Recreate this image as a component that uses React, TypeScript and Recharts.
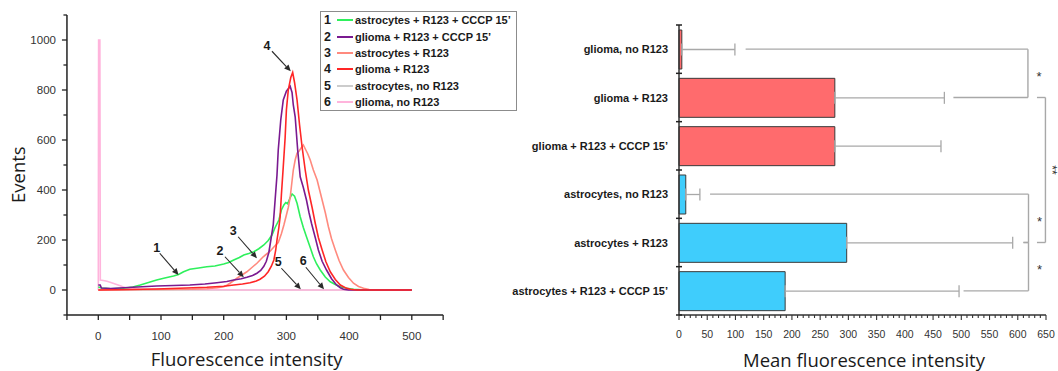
import React from "react";
import {
  Bar,
  BarChart,
  Cell,
  ErrorBar,
  Line,
  LineChart,
  ReferenceDot,
  ReferenceLine,
  XAxis,
  YAxis,
} from "recharts";

// ---- histogram (left panel) ----
const GREEN_PTS = [
  [0, 12], [5, 8], [20, 5], [40, 7], [55, 12], [67, 20], [80, 30], [93, 40], [106, 48], [120, 56],
  [128, 62], [136, 73], [146, 83], [160, 88], [173, 93], [186, 96], [200, 104], [208, 110], [216, 120],
  [225, 130], [232, 140], [240, 146], [248, 153], [256, 165], [264, 180], [271, 198], [277, 220],
  [282, 250], [288, 280], [292, 320], [296, 340], [299, 350], [302, 345], [306, 370], [309, 384],
  [313, 375], [317, 347], [322, 293], [327, 250], [332, 213], [338, 170], [343, 133], [348, 105],
  [354, 80], [362, 52], [370, 33], [378, 22], [386, 13], [396, 7], [407, 3], [420, 1], [440, 0], [500, 0],
];
const PURPLE_PTS = [
  [0, 20], [3, 20], [5, 8], [20, 6], [40, 9], [70, 13], [93, 16], [120, 18], [146, 20], [170, 24],
  [189, 29], [205, 34], [216, 40], [228, 45], [237, 51], [246, 58], [253, 67], [259, 78], [264, 95],
  [268, 115], [272, 150], [276, 213], [279, 260], [282, 360], [285, 460], [287, 560], [291, 680],
  [295, 760], [300, 795], [303, 805], [306, 815], [309, 790], [311, 740], [314, 693], [318, 560],
  [322, 453], [327, 410], [332, 360], [336, 310], [340, 267], [346, 210], [351, 160], [357, 115],
  [364, 80], [372, 45], [380, 20], [386, 9], [391, 3], [399, 0], [500, 0],
];
const SALMON_PTS = [
  [0, 0], [100, 2], [150, 3], [173, 5], [190, 9], [200, 13], [205, 19], [210, 27], [215, 36], [221, 47],
  [229, 60], [237, 73], [245, 90], [253, 107], [258, 120], [263, 133], [269, 145], [274, 155], [280, 172],
  [287, 190], [292, 225], [296, 260], [300, 300], [303, 330], [306, 370], [311, 480], [314, 520],
  [317, 547], [320, 555], [324, 570], [327, 580], [331, 560], [334, 545], [338, 520], [343, 480],
  [349, 440], [353, 400], [357, 360], [362, 310], [367, 253], [372, 205], [378, 160], [384, 118],
  [391, 80], [399, 50], [407, 27], [415, 14], [423, 7], [432, 2], [445, 0], [500, 0],
];
const RED_PTS = [
  [0, 0], [30, 1], [93, 4], [140, 8], [173, 11], [200, 15], [216, 20], [230, 24], [242, 29], [252, 36],
  [258, 43], [265, 55], [271, 73], [276, 95], [280, 120], [283, 160], [285, 200], [288, 250], [290, 293],
  [292, 380], [295, 493], [298, 610], [300, 720], [303, 800], [307, 850], [310, 870], [313, 830],
  [317, 760], [321, 660], [325, 573], [330, 480], [335, 400], [341, 330], [346, 267], [351, 210],
  [357, 160], [363, 113], [370, 73], [378, 42], [386, 20], [394, 9], [402, 3], [412, 0], [500, 0],
];
const GRAY_PTS = [[0, 0], [100, 0], [200, 0], [300, 0], [400, 0], [500, 0]];
const PINK_PTS = [
  [0, 0], [0.5, 1000], [2.5, 1000], [3.2, 40], [8, 38], [14, 35], [20, 30], [27, 24], [35, 17],
  [42, 10], [50, 6], [65, 4], [100, 3], [150, 2], [200, 1], [230, 0], [500, 0],
];

const SERIES = [
  { num: 1, name: "astrocytes + R123 + CCCP 15’", color: "#2ef05c", pts: GREEN_PTS },
  { num: 2, name: "glioma + R123 + CCCP 15’", color: "#7a1a90", pts: PURPLE_PTS },
  { num: 3, name: "astrocytes + R123", color: "#ff8a7e", pts: SALMON_PTS },
  { num: 4, name: "glioma + R123", color: "#ff2626", pts: RED_PTS },
  { num: 5, name: "astrocytes, no R123", color: "#cccccc", pts: GRAY_PTS },
  { num: 6, name: "glioma, no R123", color: "#ffb4dc", pts: PINK_PTS },
];
const DRAW_ORDER = [5, 6, 1, 3, 2, 4];

const HIST_X_TICKS = [-50, 0, 50, 100, 150, 200, 250, 300, 350, 400, 450, 500, 550];
const HIST_X_LABELS = [0, 100, 200, 300, 400, 500];
const HIST_Y_TICKS = [-100, 0, 100, 200, 300, 400, 500, 600, 700, 800, 900, 1000, 1100];
const HIST_Y_LABELS = [0, 200, 400, 600, 800, 1000];

const ARROW_TEXT = ["1", "2", "3", "4", "5", "6"];
const ARROW_TEXT_AT = [[93, 169], [194, 160], [215, 240], [269, 980], [287, 115], [327, 117]];
const ARROW_FROM = [[98, 147], [202, 133], [223, 213], [277, 955], [292, 87], [331, 91]];
const ARROW_TO = [[128, 60], [232, 51], [253, 127], [307, 875], [323, 3], [360, 3]];

// ---- bar panel (right) ----
const CATEGORIES = [
  "glioma, no R123",
  "glioma + R123",
  "glioma + R123 + CCCP 15’",
  "astrocytes, no R123",
  "astrocytes + R123",
  "astrocytes + R123 + CCCP 15’",
];
const MEANS = [5, 276, 276, 12, 297, 188];
const ERRORS = [94, 194, 188, 25, 294, 308];
const CELL_TYPE = ["glioma", "glioma", "glioma", "astro", "astro", "astro"];
const BAR_X_MAJOR = [0, 50, 100, 150, 200, 250, 300, 350, 400, 450, 500, 550, 600, 650];
const BAR_X_TICKS = Array.from({ length: 66 }, (_, i) => i * 10);

// significance brackets: rows joined, x of the vertical, where each arm starts, mark
const BRACKETS = [
  { top: 0, bottom: 1, x: 618, topFrom: 118, bottomFrom: 486, mark: "*" },
  { top: 3, bottom: 4, x: 619, topFrom: 55, bottomFrom: 610, mark: "*" },
  { top: 4, bottom: 5, x: 619, topFrom: 610, bottomFrom: 504, mark: "*" },
  { top: 1, bottom: 4, x: 649, topFrom: 634, bottomFrom: 634, mark: "**" },
];

const barData = CATEGORIES.map((name, i) => ({ name, mean: MEANS[i], err: [0, ERRORS[i]] }));

const TICK_FONT = "'Liberation Sans', Arial, sans-serif";
const TITLE_FONT = "'Open Sans', sans-serif";
const BAR_TOP = 25;
const BAR_BOTTOM = 315;
const HALF_BAND = (BAR_BOTTOM - BAR_TOP) / CATEGORIES.length / 2;

const Arrow = (p: any) => {
  const { x1, y1, x2, y2 } = p;
  const a = Math.atan2(y2 - y1, x2 - x1);
  const L = 6.5;
  const W = 3;
  const bx = x2 - L * Math.cos(a);
  const by = y2 - L * Math.sin(a);
  const pts = `${x2},${y2} ${bx + W * Math.sin(a)},${by - W * Math.cos(a)} ${bx - W * Math.sin(a)},${by + W * Math.cos(a)}`;
  return (
    <g>
      <line x1={x1} y1={y1} x2={bx} y2={by} stroke="#2a2a2a" strokeWidth={1.1} />
      <polygon points={pts} fill="#2a2a2a" />
    </g>
  );
};

const HistXTick = ({ x, y, payload }: any) => {
  const labeled = HIST_X_LABELS.includes(payload.value);
  return (
    <g>
      <line x1={x} y1={y} x2={x} y2={y + 5} stroke="#222" strokeWidth={1.3} />
      {labeled && (
        <text x={x} y={y + 24.5} textAnchor="middle" fontSize={11.5} fontFamily={TICK_FONT} fill="#333">
          {payload.value}
        </text>
      )}
    </g>
  );
};

const HistYTick = ({ x, y, payload }: any) => {
  const labeled = HIST_Y_LABELS.includes(payload.value);
  return (
    <g>
      <line x1={x - (labeled ? 5 : 3.5)} y1={y} x2={x} y2={y} stroke="#222" strokeWidth={1.3} />
      {labeled && (
        <text x={x - 11} y={y + 4} textAnchor="end" fontSize={11.5} fontFamily={TICK_FONT} fill="#333">
          {payload.value}
        </text>
      )}
    </g>
  );
};

const BarXTick = ({ x, y, payload }: any) => {
  const major = BAR_X_MAJOR.includes(payload.value);
  return (
    <g>
      <line x1={x} y1={y} x2={x} y2={y + (major ? 5 : 3)} stroke="#333" strokeWidth={1.1} />
      {major && (
        <text x={x} y={y + 22.5} textAnchor="middle" fontSize={10.5} fontFamily={TICK_FONT} fill="#333">
          {payload.value}
        </text>
      )}
    </g>
  );
};

const CategoryTick = ({ x, y, payload, index }: any) => (
  <g>
    <text x={x - 11} y={y + 4} textAnchor="end" fontSize={11} fontWeight="bold" fontFamily={TICK_FONT} fill="#1a1a1a">
      {payload.value}
    </text>
    <line x1={x - 3} x2={x + 3} y1={y - HALF_BAND} y2={y - HALF_BAND} stroke="#222" strokeWidth={1.5} />
    {index === CATEGORIES.length - 1 && (
      <line x1={x - 3} x2={x + 3} y1={y + HALF_BAND} y2={y + HALF_BAND} stroke="#222" strokeWidth={1.5} />
    )}
  </g>
);

const bracketLine = (mark?: string) => (p: any) => {
  const { x1, y1, x2, y2 } = p;
  const midY = (y1 + y2) / 2;
  const mx = Math.max(x1, x2);
  return (
    <g>
      <line x1={x1} y1={y1} x2={x2} y2={y2} stroke="#a8a8a8" strokeWidth={1.4} />
      {mark === "*" && (
        <text x={mx + 11} y={midY + 7.5} textAnchor="middle" fontSize={13} fontFamily={TICK_FONT} fill="#333">
          *
        </text>
      )}
      {mark === "**" && (
        <text
          x={mx + 2.5}
          y={midY}
          textAnchor="middle"
          fontSize={12}
          fontFamily={TICK_FONT}
          fill="#333"
          transform={`rotate(90, ${mx + 2.5}, ${midY})`}
        >
          **
        </text>
      )}
    </g>
  );
};

const HistLegend = () => (
  <div
    style={{
      position: "absolute",
      left: 320,
      top: 11,
      width: 197,
      height: 100,
      border: "1px solid #8c8c8c",
      background: "#fff",
      boxSizing: "border-box",
      paddingLeft: 3,
      fontFamily: TICK_FONT,
      fontWeight: "bold",
      color: "#1a1a1a",
    }}
  >
    {SERIES.map((s) => (
      <div key={s.num} style={{ display: "flex", alignItems: "center", height: 16.4, whiteSpace: "nowrap" }}>
        <span style={{ width: 13, fontSize: 12.5 }}>{s.num}</span>
        <span style={{ width: 15.5, height: 2, background: s.color, marginRight: 2.5 }} />
        <span style={{ fontSize: 11 }}>{s.name}</span>
      </div>
    ))}
  </div>
);

export default function App() {
  return (
    <div style={{ position: "absolute", left: 0, top: 0, width: 1058, height: 371, background: "#fff", overflow: "hidden" }}>
      <div style={{ position: "absolute", left: 0, top: 0 }}>
        <LineChart width={530} height={371} margin={{ top: 15, right: 86.85, bottom: 0, left: 0 }}>
          <XAxis
            type="number"
            dataKey="x"
            domain={[-50, 550]}
            ticks={HIST_X_TICKS}
            interval={0}
            height={56}
            tickSize={0}
            tickMargin={0}
            tickLine={false}
            tick={<HistXTick />}
            axisLine={{ stroke: "#222", strokeWidth: 1.5 }}
            label={{
              content: () => (
                <text x={246.7} y={366} textAnchor="middle" fontSize={18.5} fontFamily={TITLE_FONT} fill="#1a1a1a">
                  Fluorescence intensity
                </text>
              ),
            }}
          />
          <YAxis
            type="number"
            domain={[-100, 1100]}
            ticks={HIST_Y_TICKS}
            interval={0}
            width={66.95}
            tickSize={0}
            tickMargin={0}
            tickLine={false}
            tick={<HistYTick />}
            axisLine={{ stroke: "#222", strokeWidth: 1.5 }}
            label={{
              content: () => (
                <text
                  x={25}
                  y={174.7}
                  textAnchor="middle"
                  fontSize={18.5}
                  fontFamily={TITLE_FONT}
                  fill="#1a1a1a"
                  transform="rotate(-90, 25, 174.7)"
                >
                  Events
                </text>
              ),
            }}
          />
          {DRAW_ORDER.map((n) => {
            const s = SERIES[n - 1];
            return (
              <Line
                key={s.num}
                name={s.name}
                data={s.pts.map(([x, y]) => ({ x, y }))}
                dataKey="y"
                type="linear"
                stroke={s.color}
                strokeWidth={1.6}
                dot={false}
                activeDot={false}
                isAnimationActive={false}
              />
            );
          })}
          {ARROW_TEXT.map((t, i) => (
            <ReferenceLine
              key={`arrow-${t}`}
              segment={[
                { x: ARROW_FROM[i][0], y: ARROW_FROM[i][1] },
                { x: ARROW_TO[i][0], y: ARROW_TO[i][1] },
              ]}
              ifOverflow="visible"
              shape={Arrow}
            />
          ))}
          {ARROW_TEXT.map((t, i) => (
            <ReferenceDot
              key={`lbl-${t}`}
              x={ARROW_TEXT_AT[i][0]}
              y={ARROW_TEXT_AT[i][1]}
              r={0}
              ifOverflow="visible"
              shape={(p: any) => (
                <text x={p.cx} y={p.cy + 4.5} textAnchor="middle" fontSize={12.5} fontWeight="bold" fontFamily={TICK_FONT} fill="#1a1a1a">
                  {t}
                </text>
              )}
            />
          ))}
        </LineChart>
        <HistLegend />
      </div>

      <div style={{ position: "absolute", left: 500, top: 0 }}>
        <BarChart
          width={558}
          height={371}
          layout="vertical"
          data={barData}
          margin={{ top: BAR_TOP, right: 12, bottom: 0, left: 0 }}
          barSize={39}
        >
          <XAxis
            type="number"
            domain={[0, 650]}
            ticks={BAR_X_TICKS}
            interval={0}
            height={371 - BAR_BOTTOM}
            tickSize={0}
            tickMargin={0}
            tickLine={false}
            tick={<BarXTick />}
            axisLine={{ stroke: "#333", strokeWidth: 1.5 }}
            label={{
              content: () => (
                <text x={364} y={366.5} textAnchor="middle" fontSize={18.5} fontFamily={TITLE_FONT} fill="#1a1a1a">
                  Mean fluorescence intensity
                </text>
              ),
            }}
          />
          <YAxis
            type="category"
            dataKey="name"
            width={179}
            interval={0}
            tickSize={0}
            tickMargin={0}
            tickLine={false}
            tick={<CategoryTick />}
            axisLine={{ stroke: "#333", strokeWidth: 1.5 }}
          />
          <Bar dataKey="mean" stroke="#3a3a3a" strokeWidth={1} isAnimationActive={false}>
            {barData.map((d, i) => (
              <Cell key={d.name} fill={CELL_TYPE[i] === "glioma" ? "#ff6b6d" : "#3fcdfc"} />
            ))}
            <ErrorBar dataKey="err" direction="x" width={6} stroke="#a8a8a8" strokeWidth={1.3} />
          </Bar>
          {BRACKETS.map((b, i) => (
            <ReferenceLine
              key={`bt-${i}`}
              segment={[
                { x: b.topFrom, y: CATEGORIES[b.top] },
                { x: b.x, y: CATEGORIES[b.top] },
              ]}
              ifOverflow="visible"
              shape={bracketLine()}
            />
          ))}
          {BRACKETS.map((b, i) => (
            <ReferenceLine
              key={`bb-${i}`}
              segment={[
                { x: b.bottomFrom, y: CATEGORIES[b.bottom] },
                { x: b.x, y: CATEGORIES[b.bottom] },
              ]}
              ifOverflow="visible"
              shape={bracketLine()}
            />
          ))}
          {BRACKETS.map((b, i) => (
            <ReferenceLine
              key={`bv-${i}`}
              segment={[
                { x: b.x, y: CATEGORIES[b.top] },
                { x: b.x, y: CATEGORIES[b.bottom] },
              ]}
              ifOverflow="visible"
              shape={bracketLine(b.mark)}
            />
          ))}
        </BarChart>
      </div>
    </div>
  );
}
